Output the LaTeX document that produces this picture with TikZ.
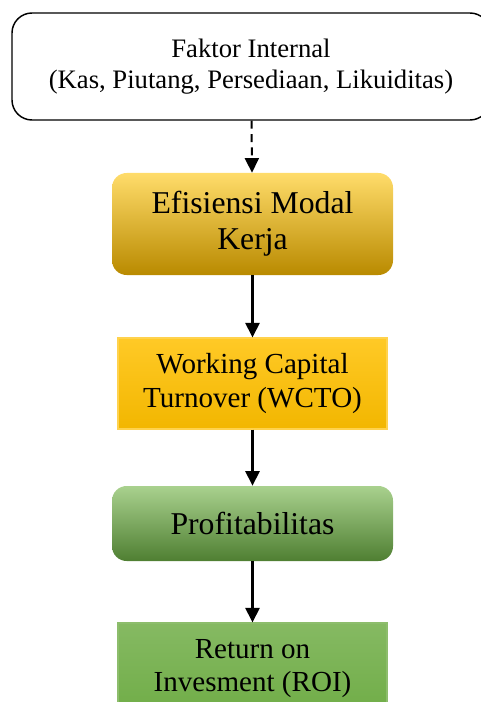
\documentclass[tikz,border=0pt]{standalone}
\usepackage{fontspec}
\setmainfont{Liberation Serif}
\usetikzlibrary{arrows.meta}
\definecolor{goldlight}{HTML}{FFDC6A}
\definecolor{gold}{HTML}{FFC000}
\definecolor{golddark}{HTML}{B98A00}
\definecolor{goldedge}{HTML}{FFD24D}
\definecolor{greenlight}{HTML}{A9D18E}
\definecolor{green}{HTML}{70AD47}
\definecolor{greendark}{HTML}{4F7F32}
\tikzset{
	box/.style={align=center,inner sep=0pt,font=\fontsize{20}{23.3}\selectfont},
	factorbox/.style={box,draw=black,line width=1.1pt,rounded corners=15pt,fill=white,
		minimum width=358.5pt,minimum height=80.25pt},
	goldround/.style={box,rounded corners=11pt,top color=goldlight,middle color=gold,bottom color=golddark,
		minimum width=210.75pt,font=\fontsize{23.8}{27}\selectfont},
	goldrect/.style={box,draw=goldedge,line width=0.8pt,top color=gold!85!white,bottom color=gold!95!black,
		minimum width=201.75pt,minimum height=68.25pt,font=\fontsize{21.8}{26}\selectfont},
	greenround/.style={box,rounded corners=11pt,top color=greenlight,middle color=green,bottom color=greendark,
		minimum width=210.75pt,minimum height=56.25pt,font=\fontsize{23.8}{27}\selectfont},
	greenrect/.style={box,draw=green!80!white,line width=0.8pt,top color=green!85!white,bottom color=green,
		minimum width=201.75pt,minimum height=68.25pt,font=\fontsize{21.8}{25}\selectfont},
	flow/.style={line width=2.2pt,-{Triangle[width=10.5pt,length=11pt]}},
}
\begin{document}
\begin{tikzpicture}[x=0.75pt,y=-0.75pt]
	\useasboundingbox (0,0) rectangle (480,702);
	\node[factorbox] (faktor) at (251,66.5) {Faktor Internal\\(Kas, Piutang, Persediaan, Likuiditas)};
	\node[goldround,minimum height=76.5pt] (efisiensi) at (252.5,224) {Efisiensi Modal\\Kerja};
	\node[goldrect] (wcto) at (252.5,383.5) {Working Capital\\Turnover (WCTO)};
	\node[greenround] (profit) at (252.5,523.5) {Profitabilitas};
	\node[greenrect] (roi) at (252.5,668.5) {Return on\\Invesment (ROI)};
	\draw[flow,line width=1.5pt,dash pattern=on 6pt off 4pt] (faktor) -- (efisiensi);
	\draw[flow] (efisiensi) -- (wcto);
	\draw[flow] (wcto) -- (profit);
	\draw[flow] (profit) -- (roi);
\end{tikzpicture}
\end{document}
